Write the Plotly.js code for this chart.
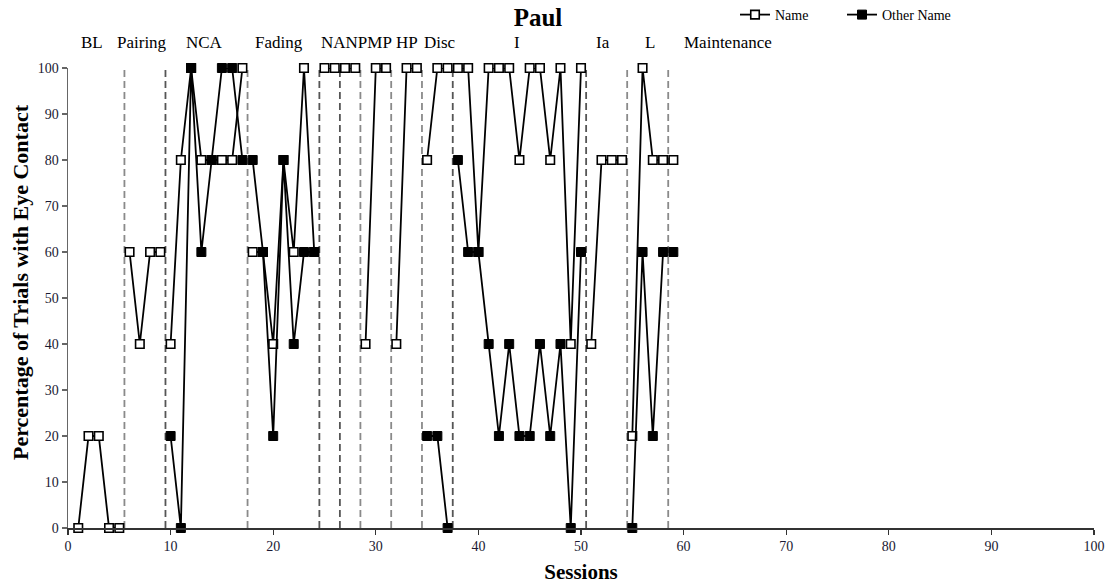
<!DOCTYPE html>
<html><head><meta charset="utf-8">
<script src="https://cdn.plot.ly/plotly-3.0.1.min.js"></script>
<style>html,body{margin:0;padding:0;background:#fff;}#chart{width:1113px;height:586px;}</style>
</head><body><div id="chart"></div>
<script>
// ---- data ----
const sessions = [1,2,3,4,5,6,7,8,9,10,11,12,13,14,15,16,17,18,19,20,21,22,23,24,25,26,27,28,29,30,31,32,33,34,35,36,37,38,39,40,41,42,43,44,45,46,47,48,49,50,51,52,53,54,55,56,57,58,59];
const nameValues = [0,20,20,0,0, 60,40,60,60, 40,80,100,80,80,80,80,100, 60,60,40,80,60,100,60, 100,100, 100,100, 40,100,100, 40,100,100, 80,100,100, 100,100,60,100,100,100,80,100,100,80,100,40,100, 40,80,80,80, 20,100,80,80, 80];
const otherNameValues = [null,null,null,null,null, null,null,null,null, 20,0,100,60,80,100,100,80, 80,60,20,80,40,60,60, null,null, null,null, null,null,null, null,null,null, 20,20,0, 80,60,60,40,20,40,20,20,40,20,40,0,60, null,null,null,null, 0,60,20,60, 60];
const phaseChanges = [5.5, 9.5, 17.5, 24.5, 26.5, 28.5, 31.5, 34.5, 37.5, 50.5, 54.5, 58.5];
const phaseLabels = ['BL','Pairing','NCA','Fading','NANPMP','HP','Disc','I','Ia','L','Maintenance'];
const phaseLabelX = [2.35, 7.2, 13.3, 20.6, 28.1, 33.0, 36.3, 43.8, 52.1, 56.7, 64.3];
const tickValues = [0,10,20,30,40,50,60,70,80,90,100];

// split series at phase change lines
function segment(xs, ys) {
  const ox = [], oy = [];
  for (let i = 0; i < xs.length; i++) {
    if (i > 0) {
      for (const pc of phaseChanges) {
        if (xs[i-1] < pc && xs[i] > pc) { ox.push(pc); oy.push(null); }
      }
    }
    ox.push(xs[i]); oy.push(ys[i]);
  }
  return {x: ox, y: oy};
}

const serif = 'Liberation Serif, Times New Roman, serif';
const nameSeg = segment(sessions, nameValues);
const otherSeg = segment(sessions, otherNameValues);

const traces = [
  {x: nameSeg.x, y: nameSeg.y, name: 'Name', type: 'scatter', mode: 'lines+markers',
   connectgaps: false, cliponaxis: false, legend: 'legend',
   line: {color: '#000', width: 1.8},
   marker: {symbol: 'square', size: 8.5, color: '#fff', line: {color: '#000', width: 1.6}}},
  {x: otherSeg.x, y: otherSeg.y, name: 'Other Name', type: 'scatter', mode: 'lines+markers',
   connectgaps: false, cliponaxis: false, legend: 'legend2',
   line: {color: '#000', width: 1.8},
   marker: {symbol: 'square', size: 9, color: '#000', line: {color: '#000', width: 1}}}
];

const darkLines = [9.5, 24.5, 26.5, 37.5, 50.5];
const shapes = phaseChanges.map(pc => ({
  type: 'line', xref: 'x', yref: 'y', x0: pc, x1: pc, y0: 0, y1: 100,
  line: {color: darkLines.includes(pc) ? '#555' : '#8a8a8a', width: 1.8, dash: '7px,4px'}, layer: 'below'
}));

const annotations = phaseLabels.map((t, i) => ({
  text: t, x: phaseLabelX[i], xref: 'x', y: 1 + (68-42)/460, yref: 'paper',
  showarrow: false, xanchor: 'center', yanchor: 'middle',
  font: {family: serif, size: 17, color: '#000'}
}));
annotations.push({
  text: '<b>Percentage of Trials with Eye Contact</b>', textangle: -90,
  xref: 'paper', x: (20-68)/1026, xanchor: 'center',
  yref: 'paper', y: (528-282)/460, yanchor: 'middle',
  showarrow: false, font: {family: serif, size: 22, color: '#000'}
});

const layout = {
  width: 1113, height: 586,
  margin: {l: 68, r: 19, t: 68, b: 58},
  paper_bgcolor: '#fff', plot_bgcolor: '#fff',
  showlegend: true,
  title: {text: '<b>Paul</b>', x: 538/1113, xref: 'container', xanchor: 'center',
          y: 1 - 17/586, yref: 'container', yanchor: 'middle',
          font: {family: serif, size: 25, color: '#000'}},
  xaxis: {range: [0, 100], tickvals: tickValues, ticktext: tickValues.map(String), automargin: false,
          showgrid: false, zeroline: false, showline: true, linecolor: '#333', linewidth: 1.5,
          ticks: 'outside', ticklen: 5, tickcolor: '#333', tickwidth: 1.2,
          tickfont: {family: serif, size: 14, color: '#1a1a33'},
          title: {text: '<b>Sessions</b>', font: {family: serif, size: 21, color: '#000'}, standoff: 11}},
  yaxis: {range: [0, 100], tickvals: tickValues, ticktext: tickValues.map(String), automargin: false,
          showgrid: false, zeroline: false, showline: true, linecolor: '#666', linewidth: 1.5,
          ticks: 'outside', ticklen: 5, tickcolor: '#666', tickwidth: 1.2,
          tickfont: {family: serif, size: 14, color: '#1a1a33'},
          title: {text: ''}},
  legend: {xref: 'container', x: 735/1113, xanchor: 'left', yref: 'container', y: 1 - 15/586, yanchor: 'middle',
           orientation: 'h', bgcolor: 'rgba(0,0,0,0)', font: {family: serif, size: 14, color: '#000'}},
  legend2: {xref: 'container', x: 842/1113, xanchor: 'left', yref: 'container', y: 1 - 15/586, yanchor: 'middle',
           orientation: 'h', bgcolor: 'rgba(0,0,0,0)', font: {family: serif, size: 14, color: '#000'}},
  shapes: shapes,
  annotations: annotations
};

Plotly.newPlot('chart', traces, layout, {staticPlot: true, displayModeBar: false});
</script>
</body></html>
